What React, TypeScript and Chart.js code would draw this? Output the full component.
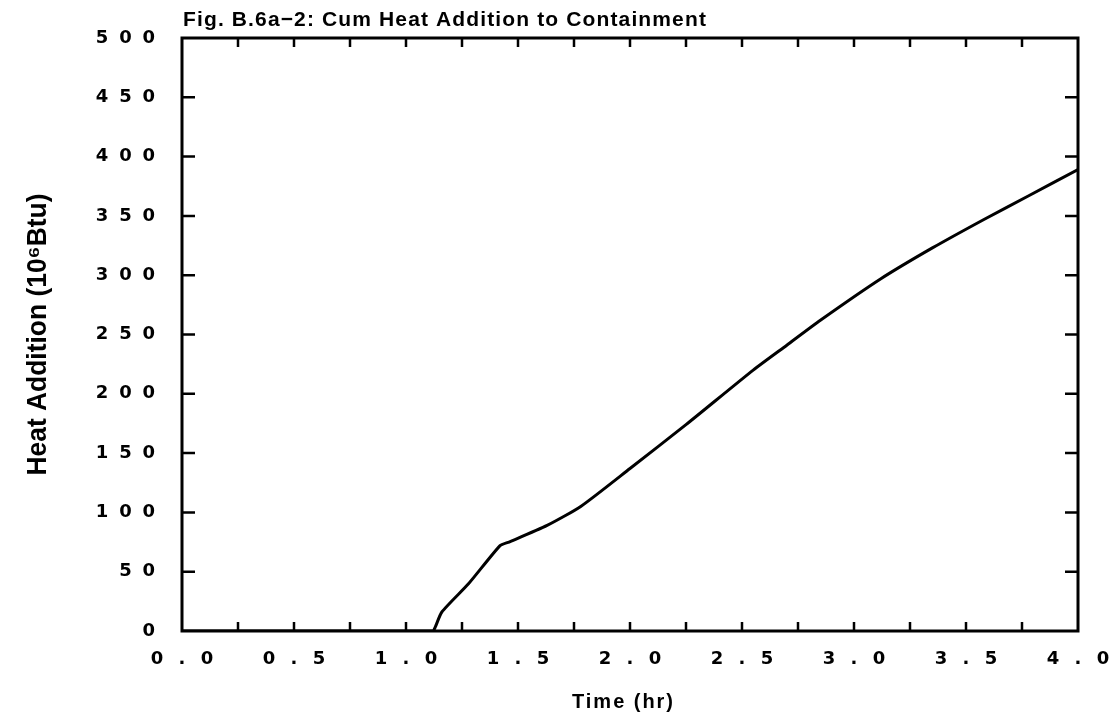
import { useEffect, useRef } from 'react';
import { Chart, registerables } from 'chart.js';

Chart.register(...registerables);

const TITLE = 'Fig. B.6a\u22122: Cum Heat Addition to Containment';
const X_TITLE = 'Time (hr)';
const Y_TITLE = 'Heat Addition (10\u2076Btu)';

const timeHr = [0, 1.12, 1.13, 1.16, 1.28, 1.42, 1.46, 1.63, 1.78, 2.0, 2.25, 2.55, 2.7, 2.85, 3.12, 3.35, 3.58, 3.78, 4.0];
const heatAdded = [0, 0, 3, 16, 40, 72, 75, 89, 105, 137, 174, 220, 241, 262, 297, 323, 347, 367, 389];

const X_MIN = 0;
const X_MAX = 4;
const X_LABEL_STEP = 0.5;
const X_MINOR_STEP = 0.25;
const Y_MIN = 0;
const Y_MAX = 500;
const Y_STEP = 50;

const FONT = "'Liberation Sans', Arial, sans-serif";
const TICK_FONT = "'DejaVu Sans', 'Liberation Sans', sans-serif";

const spaced = (s: string, sep: string) => s.split('').join(sep);

const framePlugin = {
  id: 'frameAndTitles',
  afterDraw(chart: any) {
    const { ctx, chartArea, scales } = chart;
    const { left, right, top, bottom } = chartArea;
    const x = scales.x;
    const y = scales.y;
    ctx.save();
    ctx.strokeStyle = '#000';
    ctx.lineCap = 'butt';
    ctx.lineWidth = 3;
    ctx.strokeRect(left, top, right - left, bottom - top);
    ctx.lineWidth = 2.5;
    ctx.beginPath();
    for (let v = X_MIN + X_MINOR_STEP; v < X_MAX - 1e-9; v += X_MINOR_STEP) {
      const px = x.getPixelForValue(v);
      ctx.moveTo(px, bottom);
      ctx.lineTo(px, bottom - 9);
      ctx.moveTo(px, top);
      ctx.lineTo(px, top + 9);
    }
    for (let v = Y_MIN + Y_STEP; v < Y_MAX - 1e-9; v += Y_STEP) {
      const py = y.getPixelForValue(v);
      ctx.moveTo(left, py);
      ctx.lineTo(left + 13, py);
      ctx.moveTo(right, py);
      ctx.lineTo(right - 13, py);
    }
    ctx.stroke();

    ctx.fillStyle = '#000';
    // main title
    ctx.font = `bold 21px ${FONT}`;
    ctx.textAlign = 'left';
    ctx.textBaseline = 'alphabetic';
    (ctx as any).letterSpacing = '0px';
    const tw = ctx.measureText(TITLE).width;
    const tSpacing = Math.max(0, (524 - tw) / TITLE.length);
    (ctx as any).letterSpacing = `${tSpacing}px`;
    ctx.fillText(TITLE, left + 1, 26);

    // x title
    ctx.font = `bold 20px ${FONT}`;
    (ctx as any).letterSpacing = '0px';
    const xw = ctx.measureText(X_TITLE).width;
    const xSpacing = Math.max(0, (103 - xw) / X_TITLE.length);
    (ctx as any).letterSpacing = `${xSpacing}px`;
    ctx.textAlign = 'left';
    ctx.textBaseline = 'alphabetic';
    ctx.fillText(X_TITLE, 572, 708);
    (ctx as any).letterSpacing = '0px';

    // y title (condensed)
    ctx.font = `bold 27px ${FONT}`;
    const yw = ctx.measureText(Y_TITLE).width;
    const sx = 282 / yw;
    ctx.translate(39, (top + bottom) / 2);
    ctx.rotate(-Math.PI / 2);
    ctx.scale(sx, 1);
    ctx.textAlign = 'center';
    ctx.textBaseline = 'middle';
    ctx.fillText(Y_TITLE, 0, 0);
    ctx.restore();
  },
};

export default function App() {
  const canvasRef = useRef<HTMLCanvasElement | null>(null);

  useEffect(() => {
    if (!canvasRef.current) return;
    const points = timeHr.map((t, i) => ({ x: t, y: heatAdded[i] }));
    const chart = new Chart(canvasRef.current, {
      type: 'line',
      data: {
        datasets: [
          {
            data: points,
            borderColor: '#000',
            borderWidth: 3,
            pointRadius: 0,
            tension: 0.2,
            fill: false,
          },
        ],
      },
      options: {
        animation: false,
        responsive: false,
        maintainAspectRatio: false,
        devicePixelRatio: 1,
        layout: { padding: { top: 38, right: 36, left: 0, bottom: 0 } },
        plugins: { legend: { display: false }, tooltip: { enabled: false }, title: { display: false } },
        scales: {
          x: {
            type: 'linear',
            min: X_MIN,
            max: X_MAX,
            grid: { display: false, drawTicks: false },
            border: { display: false },
            ticks: {
              stepSize: X_LABEL_STEP,
              autoSkip: false,
              maxRotation: 0,
              padding: 18,
              color: '#000',
              font: { family: TICK_FONT, size: 18, weight: 'bold' },
              callback: (v: any) => spaced(Number(v).toFixed(1), '\u2002 '),
            },
            afterFit: (scale: any) => {
              scale.height = 90;
              scale.paddingLeft = 0;
              scale.paddingRight = 0;
            },
          },
          y: {
            type: 'linear',
            min: Y_MIN,
            max: Y_MAX,
            grid: { display: false, drawTicks: false },
            border: { display: false },
            ticks: {
              stepSize: Y_STEP,
              autoSkip: false,
              padding: 27,
              color: '#000',
              font: { family: TICK_FONT, size: 18, weight: 'bold' },
              callback: (v: any) => spaced(String(v), '\u2002\u200A'),
            },
            afterFit: (scale: any) => {
              scale.width = 182;
              scale.paddingTop = 0;
              scale.paddingBottom = 0;
            },
          },
        },
      },
      plugins: [framePlugin],
    });
    return () => chart.destroy();
  }, []);

  return (
    <div style={{ position: 'fixed', left: 0, top: 0, width: 1114, height: 721, background: '#fff' }}>
      <canvas ref={canvasRef} width={1114} height={721} style={{ display: 'block', width: 1114, height: 721 }} />
    </div>
  );
}
